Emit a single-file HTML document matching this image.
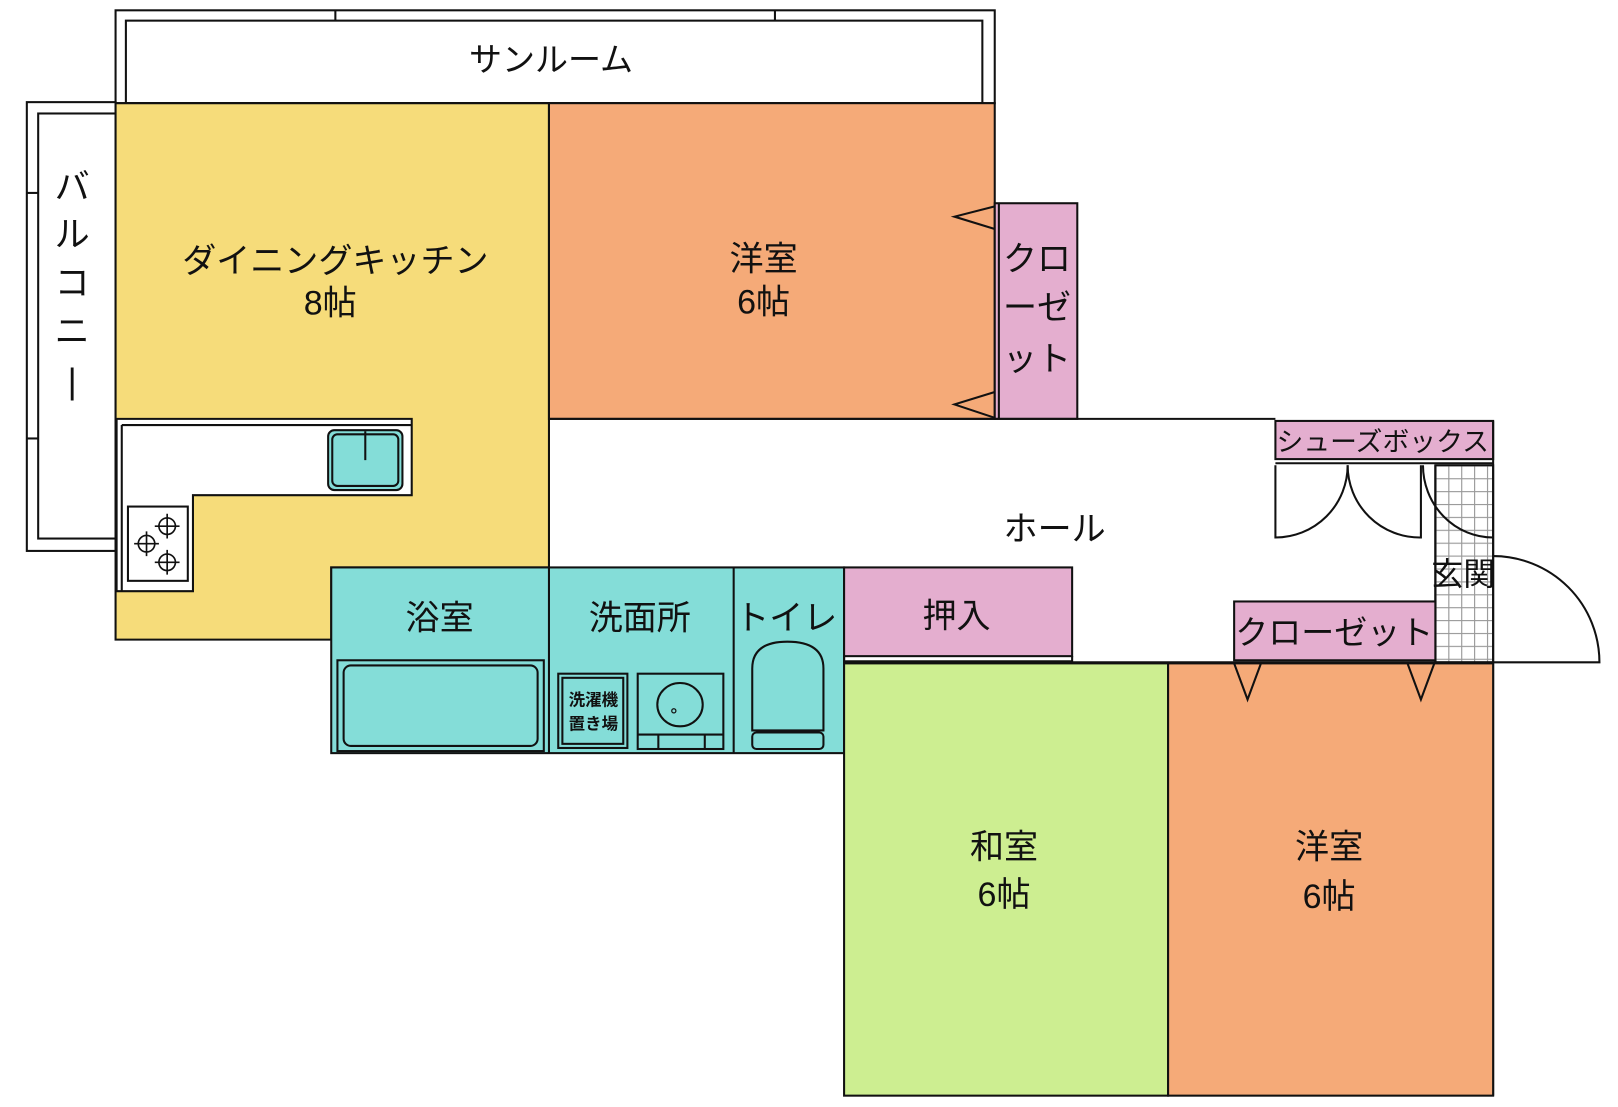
<!DOCTYPE html>
<html><head><meta charset="utf-8"><style>
html,body{margin:0;padding:0;background:#fff;}
svg{display:block;}
text{font-family:"Liberation Sans","Noto Sans CJK JP",sans-serif;fill:#111;text-anchor:middle;}
</style></head><body>
<svg width="1618" height="1107" viewBox="0 0 1568 1073" preserveAspectRatio="none" xmlns="http://www.w3.org/2000/svg">
<defs>
<pattern id="grid" width="12.5" height="12.5" patternUnits="userSpaceOnUse" x="1391" y="451">
<rect width="12.5" height="12.5" fill="#fff"/>
<path d="M0 0H12.5M0 0V12.5" stroke="#999" stroke-width="2.2"/>
</pattern>
</defs>
<g stroke="#111" stroke-width="2" fill="none">
<rect x="112" y="10" width="852" height="90" fill="#fff"/>
<rect x="122" y="20" width="830" height="80"/>
<line x1="325" y1="10" x2="325" y2="20"/><line x1="751" y1="10" x2="751" y2="20"/>
<rect x="26" y="99" width="86" height="435" fill="#fff"/>
<rect x="37" y="110" width="75" height="412"/>
<line x1="26" y1="187" x2="37" y2="187"/><line x1="26" y1="425" x2="37" y2="425"/>
<path d="M112 100H532V550H321V620H112Z" fill="#F6DC7A"/>
<path d="M113 406H399V480H187V573H113Z" fill="#fff"/>
<path d="M118 412H399M118 412V573"/>
<rect x="318" y="417" width="72" height="58" rx="6" fill="#84DDD8"/>
<rect x="322" y="421" width="64" height="50" rx="5"/>
<line x1="354" y1="418" x2="354" y2="446"/>
<rect x="124" y="491" width="58" height="72" fill="#fff"/>
<g stroke-width="1.6">
<circle cx="162" cy="510" r="8"/><path d="M150 510H174M162 498V522"/>
<circle cx="142" cy="527" r="8"/><path d="M130 527H154M142 515V539"/>
<circle cx="162" cy="545" r="8"/><path d="M150 545H174M162 533V557"/>
</g>
<rect x="532" y="100" width="432" height="306" fill="#F5AA78"/>
<rect x="964" y="197" width="80" height="209" fill="#E4AECF"/>
<line x1="968" y1="197" x2="968" y2="406"/>
<path d="M964 200L925 210L964 222"/>
<path d="M964 380L925 392L964 405"/>
<path d="M532 406H1236"/>
<rect x="1236" y="408" width="211" height="37" fill="#E4AECF"/>
<line x1="1236" y1="449" x2="1447" y2="449"/>
<rect x="1391" y="451" width="56" height="191" fill="url(#grid)"/>
<line x1="1447" y1="408" x2="1447" y2="1062"/>
<line x1="1391" y1="451" x2="1391" y2="642"/>
<path d="M1236 451V521A70 70 0 0 0 1306 451"/>
<path d="M1377 451V521A70 70 0 0 1 1306 451"/>
<path d="M1379 451A68 70 0 0 0 1447 521"/>
<path d="M1447 642H1550A103 103 0 0 0 1447 539"/>
<rect x="321" y="550" width="497" height="180" fill="#84DDD8"/>
<line x1="532" y1="550" x2="532" y2="730"/><line x1="711" y1="550" x2="711" y2="730"/>
<rect x="327" y="640" width="200" height="88"/>
<rect x="333" y="645" width="188" height="78" rx="7"/>
<rect x="541" y="653" width="67" height="72"/>
<rect x="545" y="657" width="59" height="64"/>
<rect x="618" y="653" width="83" height="73"/>
<ellipse cx="659" cy="683" rx="22" ry="21"/>
<circle cx="653" cy="689" r="2" stroke-width="1.2"/>
<path d="M618 712H701M638 712V726M683 712V726"/>
<path d="M729 708V648Q729 622 763 622Q798 622 798 648V708Z"/>
<rect x="729" y="710" width="69" height="16" rx="4"/>
<rect x="818" y="550" width="221" height="86" fill="#E4AECF"/>
<path d="M818 636V641H1039V636"/>
<rect x="1196" y="583" width="195" height="57" fill="#E4AECF"/>
<rect x="818" y="643" width="314" height="419" fill="#CDEE91"/>
<rect x="1132" y="643" width="315" height="419" fill="#F5AA78"/>
<path d="M1196 643L1209 678L1222 643"/>
<path d="M1364 643L1377 678L1390 643"/>
<path d="M818 642H1447"/>
</g>
<text x="534" y="69" font-size="32">サンルーム</text>
<g font-size="34">
<text x="70" y="193">バ</text><text x="70" y="239">ル</text><text x="70" y="286">コ</text><text x="70" y="333">ニ</text><text x="70" y="381">|</text>
</g>
<text x="325" y="264" font-size="33">ダイニングキッチン</text>
<text x="320" y="305" font-size="33">8帖</text>
<text x="740" y="262" font-size="33">洋室</text>
<text x="740" y="304" font-size="33">6帖</text>
<text x="1005" y="262" font-size="33">クロ</text>
<text x="1005" y="309" font-size="33">ーゼ</text>
<text x="1005" y="359" font-size="33">ット</text>
<text x="1340" y="437" font-size="26">シューズボックス</text>
<text x="1022" y="524" font-size="33">ホール</text>
<text x="1418" y="567" font-size="31">玄関</text>
<text x="426" y="610" font-size="33">浴室</text>
<text x="620" y="610" font-size="33">洗面所</text>
<text x="762" y="610" font-size="33">トイレ</text>
<text x="927" y="608" font-size="33">押入</text>
<text x="1293" y="624" font-size="32">クローゼット</text>
<text x="575" y="684" font-size="16" font-weight="bold">洗濯機</text>
<text x="575" y="707" font-size="16" font-weight="bold">置き場</text>
<text x="973" y="832" font-size="33">和室</text>
<text x="973" y="878" font-size="33">6帖</text>
<text x="1288" y="832" font-size="33">洋室</text>
<text x="1288" y="880" font-size="33">6帖</text>
</svg>
</body></html>
